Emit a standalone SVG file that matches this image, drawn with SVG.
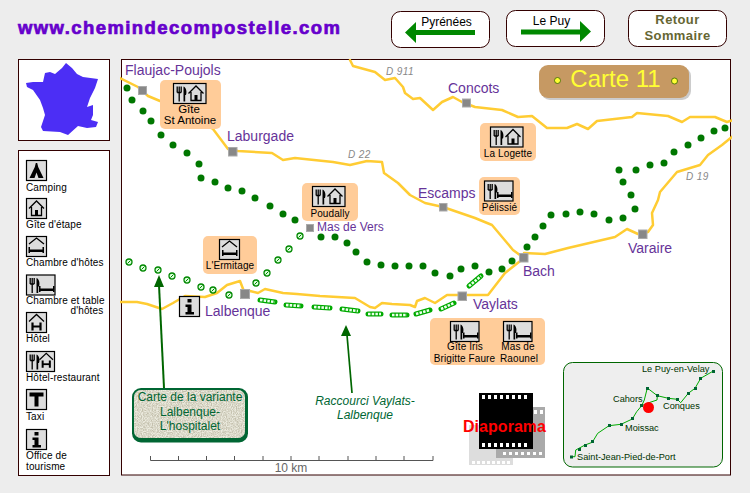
<svg xmlns="http://www.w3.org/2000/svg" xmlns:xlink="http://www.w3.org/1999/xlink" width="750" height="493" viewBox="0 0 750 493">
<style>
text{font-family:"Liberation Sans",Arial,sans-serif}
.panel{fill:#fff;stroke:#300;stroke-width:1}
.btn{fill:#fff;stroke:#300;stroke-width:1}
.road{fill:none;stroke:#fc3;stroke-width:2.5;stroke-linejoin:round;stroke-linecap:round}
.town{font-size:14px;fill:#639}
.rd{font-size:10px;font-style:italic;fill:#888;letter-spacing:.4px}
.leg{font-size:10px;fill:#000;letter-spacing:.12px}
.lab{font-size:10px;fill:#000;letter-spacing:.1px;text-anchor:middle}
.box{fill:#fc9}
.sq{fill:#888;stroke:#aaa;stroke-width:1}
.mini{font-size:9.200px;fill:#030}
.chainO{fill:none;stroke:#0a0;stroke-width:5;stroke-linecap:round}
.chainI{fill:none;stroke:#efe;stroke-width:2.600;stroke-dasharray:2.500 1.200}
.fr{fill:#ddd;stroke:#000;stroke-width:1.2}
.blk{fill:none;stroke:#000;stroke-width:1.3}
</style>
<defs>
<circle id="dot" r="3.500" fill="#070"/>
<g id="hdot"><circle r="3" fill="#dfd" stroke="#080" stroke-width="1.300"/><path d="M-1.500 1.500L1.500-1.500" stroke="#080" stroke-width="1"/></g>
<g id="food"><path class="blk" d="M2.700 3v6M4.700 3v6M6.700 3v6M2.700 9h4M4.700 9v9"/><path d="M9 3c3 1 3.500 6 2.500 8.500h-.8v6.500h-1.700z" fill="#000"/></g>
<g id="house"><path class="blk" d="M0 8.500L7.500 1L15 8.500M2.500 7v8.500h10V7"/><rect x="6" y="10" width="3" height="5.500" fill="#000"/></g>
<g id="bed"><path d="M0 0h1.500v6H0zM14 0h1.500v6H14zM1.500 2.500h12.500v2.500H1.500z" fill="#000"/></g>
<g id="hH"><path class="blk" d="M0 8L7.500 1L15 8"/><path d="M3.500 9v8M11.500 9v8" stroke="#000" stroke-width="2.200" fill="none"/><path d="M3.500 13h8" stroke="#000" stroke-width="2"/></g>
<g id="iGlyph"><rect x="8.500" y="3" width="4" height="3.500" fill="#000"/><path d="M6.500 8.500h6v7.500h2.500v2.500H6.500V16h2v-5h-2z" fill="#000"/></g>
<g id="iFoodHouse"><rect class="fr" width="32.500" height="20"/><use xlink:href="#food" x="1" y="0"/><use xlink:href="#house" x="15" y="1.500"/></g>
<g id="iFoodBed"><rect class="fr" width="28.500" height="20"/><use xlink:href="#food" x="1" y="0"/><use xlink:href="#bed" x="12.500" y="11"/></g>
<filter id="grain" x="0" y="0" width="100%" height="100%"><feTurbulence type="fractalNoise" baseFrequency=".8" numOctaves="2" seed="4"/><feColorMatrix values="0 0 0 0 .55  0 0 0 0 .53  0 0 0 0 .42  2.600 0 0 0 -.85"/><feComposite in2="SourceAlpha" operator="in"/></filter>
<clipPath id="mapclip"><rect x="120" y="59" width="612" height="417"/></clipPath>
</defs>

<rect width="750" height="493" fill="#ededed"/>
<text x="18" y="34" font-size="18.500" font-weight="700" fill="#60c" stroke="#60c" stroke-width=".7" textLength="322" lengthAdjust="spacing">www.chemindecompostelle.com</text>

<g id="btn-pyrenees"><rect class="btn" x="391.500" y="11.500" width="98" height="36" rx="9"/><text x="446.500" y="26" font-size="12" fill="#000" text-anchor="middle">Pyrénées</text><path d="M405 32.500L416 22v8h59v5h-59v8z" fill="#080"/></g>
<g id="btn-lepuy"><rect class="btn" x="506.500" y="10.500" width="98" height="36" rx="9"/><text x="551.500" y="25" font-size="12" fill="#000" text-anchor="middle">Le Puy</text><path d="M591 31.500L580 21v8.500h-59v5h59V42z" fill="#080"/></g>
<g id="btn-retour"><rect class="btn" x="628.500" y="10.500" width="98" height="36" rx="9"/><text x="677.500" y="24" font-size="13" font-weight="700" fill="#663" text-anchor="middle" letter-spacing=".4">Retour</text><text x="677.500" y="40" font-size="13" font-weight="700" fill="#663" text-anchor="middle" letter-spacing=".4">Sommaire</text></g>

<g id="france"><rect class="panel" x="18.500" y="59.500" width="91" height="81"/>
<path d="M26 83L33 82L43 82L45 73L50 72L55 74L62 68L66 63L72 68L77 74L83 77L98 79L95 88L90 98L87 107L93 105L93 115L91 120L98 122L96 127L87 128L78 126L68 135L60 132L43 131L41 127L45 115L43 108L40 100L33 90L27 87z" fill="#4c2ef5"/></g>

<g id="legend"><rect class="panel" x="18.500" y="150.500" width="91" height="325"/>
<g id="leg-camping"><rect class="fr" x="26.500" y="160.500" width="20" height="20"/><path d="M35.800 163h1.400l1 4L43.500 178H38.500L36.500 172.500L34.500 178H29.500L34.800 167z" fill="#000"/><text class="leg" x="26" y="190.500">Camping</text></g>
<g id="leg-gite"><rect class="fr" x="26.500" y="198.500" width="20" height="20"/><use xlink:href="#house" x="29" y="200"/><text class="leg" x="26" y="228">Gîte d'étape</text></g>
<g id="leg-chambre"><rect class="fr" x="26.500" y="236.500" width="20" height="20"/><path class="blk" d="M29 244L36.500 238L44 244"/><use xlink:href="#bed" x="28.500" y="247"/><text class="leg" x="26" y="266">Chambre d'hôtes</text></g>
<g id="leg-table"><use xlink:href="#iFoodBed" x="26.500" y="275"/><text class="leg" x="26" y="304">Chambre et table</text><text class="leg" x="70.500" y="314">d'hôtes</text></g>
<g id="leg-hotel"><rect class="fr" x="26.500" y="312.500" width="20" height="20"/><use xlink:href="#hH" x="29" y="313.500"/><text class="leg" x="26" y="342">Hôtel</text></g>
<g id="leg-hotelrest"><rect class="fr" x="26.500" y="351.500" width="28" height="20"/><use xlink:href="#food" x="27.500" y="351.500"/><use xlink:href="#hH" transform="translate(39.500 352.500) scale(.9)"/><text class="leg" x="26" y="381">Hôtel-restaurant</text></g>
<g id="leg-taxi"><rect class="fr" x="26.500" y="389.500" width="20" height="20"/><path d="M29.500 392.500h14v4h-5v10h-4v-10h-5z" fill="#000"/><text class="leg" x="26" y="419.500">Taxi</text></g>
<g id="leg-office"><rect class="fr" x="26.500" y="429.500" width="20" height="20"/><use xlink:href="#iGlyph" x="26" y="429"/><text class="leg" x="26" y="459">Office de</text><text class="leg" x="26" y="469.500">tourisme</text></g>
</g>

<rect class="panel" x="121.500" y="59.500" width="609" height="415.500"/>

<g id="connectors" clip-path="url(#mapclip)">
<g id="roads">
<path class="road" d="M120 78L138 87L148 96L160 101L213 129L228 149L238 151L272 153L283 160L295 158L333 162L350 165L367 161L382 162L384 173L398 183L410 195L425 203L443 207L475 218L492 225L513 250L524 258L505 273L488 295L462 295L447 295L435 303L425 298L417 301L415 307L410 305L392 304L382 303L375 308L370 307L355 298L320 296L297 294L283 293L265 289L258 293L250 291L245 294L240 281L227 285L217 293L205 297L185 296L173 303L162 309L147 304L137 302L120 302"/>
<path class="road" d="M524 253L545 254L568 248L615 237L627 229L638 234L648 232L653 225L652 213L658 200L660 192L677 172L700 165L708 155L722 145L733 136"/>
<path class="road" d="M350 60L353 66L375 72L385 80L395 78L403 87L405 93L413 99L420 98L433 110L442 102L453 97L462 102L475 107L502 110L518 117L532 116L547 128L567 128L577 124L588 129L597 121L632 117L637 113L668 116L682 122L690 117L715 117L727 122L733 120"/>
</g>
<g id="trail-main">
<use xlink:href="#dot" x="127" y="88"/><use xlink:href="#dot" x="132" y="100"/><use xlink:href="#dot" x="143" y="111"/><use xlink:href="#dot" x="151" y="121"/><use xlink:href="#dot" x="161" y="135"/><use xlink:href="#dot" x="173" y="145"/><use xlink:href="#dot" x="187" y="153"/><use xlink:href="#dot" x="199" y="164"/><use xlink:href="#dot" x="201" y="178"/><use xlink:href="#dot" x="215" y="182"/><use xlink:href="#dot" x="228" y="188"/><use xlink:href="#dot" x="242" y="191"/><use xlink:href="#dot" x="255" y="198"/><use xlink:href="#dot" x="270" y="206"/><use xlink:href="#dot" x="283" y="214"/><use xlink:href="#dot" x="295" y="220"/><use xlink:href="#dot" x="321" y="237"/><use xlink:href="#dot" x="335" y="237"/><use xlink:href="#dot" x="347" y="243"/><use xlink:href="#dot" x="356" y="252"/><use xlink:href="#dot" x="367" y="262"/><use xlink:href="#dot" x="381" y="265"/><use xlink:href="#dot" x="395" y="266"/><use xlink:href="#dot" x="409" y="266"/><use xlink:href="#dot" x="423" y="266"/><use xlink:href="#dot" x="435" y="273"/><use xlink:href="#dot" x="450" y="276"/><use xlink:href="#dot" x="461" y="269"/><use xlink:href="#dot" x="475" y="266"/><use xlink:href="#dot" x="489" y="272"/><use xlink:href="#dot" x="502" y="269"/><use xlink:href="#dot" x="512" y="261"/><use xlink:href="#dot" x="527" y="247"/><use xlink:href="#dot" x="535" y="237"/><use xlink:href="#dot" x="543" y="226"/><use xlink:href="#dot" x="551" y="215"/><use xlink:href="#dot" x="566" y="214"/><use xlink:href="#dot" x="580" y="212"/><use xlink:href="#dot" x="594" y="214"/><use xlink:href="#dot" x="609" y="220"/><use xlink:href="#dot" x="623" y="218"/><use xlink:href="#dot" x="635" y="209"/><use xlink:href="#dot" x="631" y="195"/><use xlink:href="#dot" x="623" y="182"/><use xlink:href="#dot" x="619" y="170"/><use xlink:href="#dot" x="636" y="170"/><use xlink:href="#dot" x="650" y="165"/><use xlink:href="#dot" x="664" y="163"/><use xlink:href="#dot" x="674" y="152"/><use xlink:href="#dot" x="688" y="145"/><use xlink:href="#dot" x="701" y="138"/><use xlink:href="#dot" x="714" y="131"/><use xlink:href="#dot" x="725" y="128"/>
</g>
<g id="trail-variant">
<use xlink:href="#hdot" x="129" y="262"/><use xlink:href="#hdot" x="143" y="268"/><use xlink:href="#hdot" x="158" y="270"/><use xlink:href="#hdot" x="172" y="276"/><use xlink:href="#hdot" x="187" y="280"/><use xlink:href="#hdot" x="201" y="287"/><use xlink:href="#hdot" x="213" y="290"/><use xlink:href="#hdot" x="229" y="295"/><use xlink:href="#hdot" x="256" y="283"/><use xlink:href="#hdot" x="267" y="273"/><use xlink:href="#hdot" x="278" y="260"/><use xlink:href="#hdot" x="289" y="249"/><use xlink:href="#hdot" x="300" y="236"/>
</g>
<g id="trail-shortcut">
<path class="chainO" d="M260 300L275 302M286 305L301 306M314 307L330 308M342 309L358 311M368 314L381 314M392 315L407 315M416 314L430 310M441 309L454 303M469 286L481 276"/>
<path class="chainI" d="M260 300L275 302M286 305L301 306M314 307L330 308M342 309L358 311M368 314L381 314M392 315L407 315M416 314L430 310M441 309L454 303M469 286L481 276"/>
</g>
<g id="arrow-variant"><path d="M164 388L159 285" fill="none" stroke="#060" stroke-width="2"/><path d="M159 275L164 287H154z" fill="#060"/></g>
<g id="arrow-shortcut"><path d="M352 393L347 335" fill="none" stroke="#060" stroke-width="1.700"/><path d="M346 325L351 336H341z" fill="#060"/></g>
</g>

<g id="town-flaujac"><rect class="sq" x="138.500" y="86.500" width="8" height="8"/><text class="town" x="125" y="75">Flaujac-Poujols</text></g>
<g id="town-laburgade"><rect class="sq" x="228.500" y="147.500" width="8.500" height="8.500"/><text class="town" x="227" y="141">Laburgade</text></g>
<g id="town-masdevers"><rect class="sq" x="306.500" y="224.500" width="7" height="7"/><text x="317" y="231" font-size="12" fill="#639">Mas de Vers</text></g>
<g id="town-lalbenque"><rect class="sq" x="240.500" y="289.500" width="9" height="9"/><text class="town" x="205" y="316">Lalbenque</text></g>
<g id="town-vaylats"><rect class="sq" x="458" y="292" width="8.500" height="8.500"/><text class="town" x="473" y="309">Vaylats</text></g>
<g id="town-bach"><rect class="sq" x="519.500" y="253.500" width="8.500" height="8.500"/><text class="town" x="523" y="276">Bach</text></g>
<g id="town-varaire"><rect class="sq" x="638.500" y="230" width="8.500" height="8.500"/><text class="town" x="628" y="253">Varaire</text></g>
<g id="town-escamps"><rect class="sq" x="439.500" y="203.500" width="7.500" height="7.500"/><text class="town" x="418" y="198">Escamps</text></g>
<g id="town-concots"><rect class="sq" x="462.500" y="99" width="8" height="8"/><text class="town" x="448" y="93">Concots</text></g>

<text class="rd" x="386" y="75">D 911</text>
<text class="rd" x="348" y="158">D 22</text>
<text class="rd" x="686" y="180">D 19</text>

<g id="h-stantoine"><rect class="box" x="160" y="80" width="61" height="49" rx="5"/><use xlink:href="#iFoodHouse" x="173.500" y="83.500"/><text x="189" y="113" font-size="11.500" fill="#000" text-anchor="middle">Gîte</text><text x="190" y="124" font-size="11.500" fill="#000" text-anchor="middle">St Antoine</text></g>
<g id="h-poudally"><rect class="box" x="302" y="183" width="56" height="38" rx="5"/><use xlink:href="#iFoodHouse" x="312.500" y="186.500"/><text class="lab" x="330" y="217">Poudally</text></g>
<g id="h-ermitage"><rect class="box" x="203" y="236" width="54" height="38" rx="5"/><rect class="fr" x="219.500" y="239.500" width="20" height="20"/><path class="blk" d="M222 247L229.500 241L237 247"/><use xlink:href="#bed" x="222" y="250"/><text class="lab" x="230" y="269">L'Ermitage</text></g>
<g id="h-logette"><rect class="box" x="480" y="123" width="56" height="38" rx="5"/><use xlink:href="#iFoodHouse" x="490.500" y="127"/><text class="lab" x="508" y="157">La Logette</text></g>
<g id="h-pelissie"><rect class="box" x="479" y="177" width="41" height="38" rx="5"/><use xlink:href="#iFoodBed" x="484.500" y="181"/><text class="lab" x="499.500" y="211">Pélissié</text></g>
<g id="h-iris"><rect class="box" x="430" y="318" width="115" height="47" rx="5"/><use xlink:href="#iFoodBed" x="450.500" y="321.500"/><use xlink:href="#iFoodBed" x="503.500" y="321.500"/><text class="lab" x="465" y="350">Gîte Iris</text><text class="lab" x="464.500" y="362">Brigitte Faure</text><text class="lab" x="518" y="350">Mas de</text><text class="lab" x="519" y="362">Raounel</text></g>

<g id="info"><rect class="fr" x="179.500" y="296.500" width="20" height="20"/><use xlink:href="#iGlyph" x="179" y="296"/></g>

<g id="carte"><rect x="541" y="67" width="150" height="33" rx="9" fill="#ccc"/><rect x="539" y="65" width="150" height="33" rx="9" fill="#c69963"/><circle cx="557.500" cy="80.500" r="3" fill="#ff3" stroke="#360" stroke-width=".8"/><circle cx="674.500" cy="81" r="3" fill="#ff3" stroke="#360" stroke-width=".8"/><text x="615.500" y="87" font-size="24" fill="#ff3" text-anchor="middle">Carte 11</text></g>

<g id="callout"><rect x="132" y="388" width="116" height="54.500" rx="9" fill="#063"/><rect x="134" y="390" width="111" height="48" rx="7" fill="#ecebdf"/><rect x="134" y="390" width="111" height="48" rx="7" filter="url(#grain)"/>
<text x="190" y="401" font-size="12" fill="#063" text-anchor="middle">Carte de la variante</text><text x="190" y="416" font-size="12" fill="#063" text-anchor="middle">Lalbenque-</text><text x="190" y="430" font-size="12" fill="#063" text-anchor="middle">L'hospitalet</text></g>

<text x="365" y="405" font-size="12" font-style="italic" fill="#063" text-anchor="middle">Raccourci Vaylats-</text>
<text x="365" y="419" font-size="12" font-style="italic" fill="#063" text-anchor="middle">Lalbenque</text>

<g id="scale"><path d="M150.500 456v4.500H433V456M178.500 456v4.500M206.500 456v4.500M234.500 456v4.500M263 456v4.500M291 456v4.500M319 456v4.500M348 456v4.500M376 456v4.500M404 456v4.500" fill="none" stroke="#555" stroke-width="1"/><text x="291" y="472" font-size="12" fill="#666" text-anchor="middle">10 km</text></g>

<g id="diaporama">
<rect x="469" y="425" width="44" height="40" fill="#ddd"/>
<rect x="496" y="407" width="49" height="51" fill="#aaa"/>
<path d="M472 461h3v3h-3zM477 461h3v3h-3zM482 461h3v3h-3zM487 461h3v3h-3zM492 461h3v3h-3zM497 461h3v3h-3zM502 461h3v3h-3zM507 461h3v3h-3zM503 452h3v3h-3zM509 452h3v3h-3zM515 452h3v3h-3zM521 452h3v3h-3zM527 452h3v3h-3zM533 452h3v3h-3zM539 452h3v3h-3zM534 410h3v4h-3zM540 410h3v4h-3z" fill="#fff"/>
<rect x="479" y="393" width="54" height="56" fill="#000"/>
<path d="M482 395h3v4h-3zM488 395h3v4h-3zM494 395h3v4h-3zM500 395h3v4h-3zM506 395h3v4h-3zM512 395h3v4h-3zM518 395h3v4h-3zM524 395h3v4h-3zM482 443h3v4h-3zM488 443h3v4h-3zM494 443h3v4h-3zM500 443h3v4h-3zM506 443h3v4h-3zM512 443h3v4h-3zM518 443h3v4h-3zM524 443h3v4h-3z" fill="#fff"/>
<text x="463" y="432" font-size="16" font-weight="700" fill="#f00" textLength="83">Diaporama</text></g>

<g id="minimap"><rect x="563.500" y="362.500" width="159" height="104.500" rx="9" fill="#eee" stroke="#060" stroke-width="1"/>
<path d="M571.700 456.700H575L575.700 450L585 445L592.300 442.300L597.700 433.300L609 425.700L621 424.300L632.300 419L636.700 411.700L641.700 405.700L644.300 400L647.300 388L657.300 395.700L657 400L648 403L641.700 405.700M657.300 395.700L668.300 398.300L677.300 399.300L680.700 402.700L688.300 393.300L695 388.300L700.700 378.300L713.300 371" fill="none" stroke="#0a0" stroke-width="1"/>
<path d="M570 455.500h3v3h-3zM578 448h3v3h-3zM584 444h3v3h-3zM591 440h3v3h-3zM608 424h3v3h-3zM620 423h3v3h-3zM631 417h3v3h-3zM640 404h3v3h-3zM646 387h3v3h-3zM656 394h3v3h-3zM667 397h3v3h-3zM676 398h3v3h-3zM687 392h3v3h-3zM694 387h3v3h-3zM699 377h3v3h-3zM712 370h3v3h-3z" fill="#063"/>
<circle cx="648.500" cy="407.500" r="5.500" fill="#f00"/>
<text class="mini" x="642" y="372">Le Puy-en-Velay</text><text class="mini" x="613" y="402">Cahors</text><text class="mini" x="663" y="409">Conques</text><text class="mini" x="625" y="431">Moissac</text><text class="mini" x="577" y="460">Saint-Jean-Pied-de-Port</text></g>
</svg>
